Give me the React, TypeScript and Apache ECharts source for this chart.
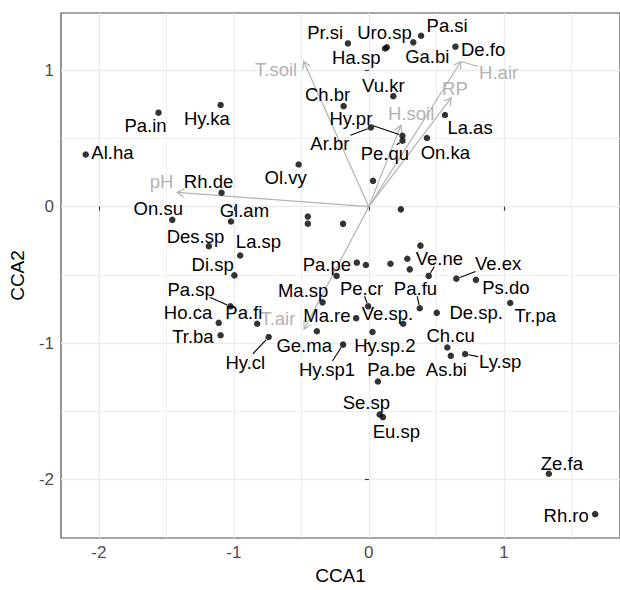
import React, { useEffect, useRef } from "react";
import * as echarts from "echarts";

// ---- Data ----
const speciesNames = [
  "Al.ha", "Pa.in", "Hy.ka", "Ol.vy", "Rh.de", "On.su", "Gl.am", "Des.sp", "La.sp", "Di.sp",
  "Pa.sp", "Pa.fi", "Ho.ca", "Tr.ba", "Hy.cl", "Ma.sp", "Ge.ma", "Ma.re", "Pa.pe", "Pe.cr",
  "Ve.sp.", "Hy.sp.2", "Hy.sp1", "Pa.fu", "De.sp.", "Ve.ne", "Ve.ex", "Ps.do", "Tr.pa", "Ch.cu",
  "As.bi", "Ly.sp", "Pa.be", "Se.sp", "Eu.sp", "Ze.fa", "Rh.ro", "Pr.si", "Uro.sp", "Ha.sp",
  "Ga.bi", "Pa.si", "De.fo", "Vu.kr", "Ch.br", "Hy.pr", "Pe.qu", "Ar.br", "La.as", "On.ka",
];
const speciesCCA1 = [
  -2.097, -1.558, -1.098, -0.52, -1.091, -1.456, -1.021, -1.185, -0.953, -0.996,
  -1.025, -0.827, -1.112, -1.098, -0.742, -0.343, -0.385, -0.094, -0.089, -0.005,
  0.254, 0.027, -0.191, 0.377, 0.503, 0.443, 0.648, 0.793, 1.047, 0.581,
  0.607, 0.713, 0.067, 0.08, 0.104, 1.333, 1.676, -0.155, 0.133, 0.12,
  0.329, 0.387, 0.641, 0.181, -0.187, 0.249, 0.249, 0.015, 0.564, 0.43,
];
const speciesCCA2 = [
  0.382, 0.689, 0.745, 0.309, 0.102, -0.097, -0.109, -0.29, -0.358, -0.504,
  -0.731, -0.859, -0.852, -0.943, -0.956, -0.702, -0.914, -0.818, -0.411, -0.731,
  -0.859, -0.919, -1.012, -0.745, -0.779, -0.508, -0.528, -0.537, -0.707, -1.033,
  -1.094, -1.081, -1.282, -1.524, -1.544, -1.959, -2.255, 1.197, 1.168, 1.16,
  1.205, 1.253, 1.173, 0.81, 0.737, 0.52, 0.483, 0.581, 0.672, 0.503,
];
// species without a drawn label
const unlabeledCCA1 = [0.031, 0.237, -0.452, -0.452, -0.191, 0.382, -0.022, -0.239, 0.16, 0.285, 0.303];
const unlabeledCCA2 = [0.189, -0.02, -0.073, -0.125, -0.126, -0.286, -0.428, -0.508, -0.419, -0.382, -0.46];

const envNames = ["pH", "T.soil", "T.air", "H.air", "RP", "H.soil"];
const envCCA1 = [-1.42, -0.483, -0.479, 0.682, 0.61, 0.237];
const envCCA2 = [0.104, 1.065, -0.898, 1.064, 0.797, 0.597];

const xTicks = [-2, -1, 0, 1];
const yTicks = [-2, -1, 0, 1];

// ---- Layout (repelled label offsets in px, relative to the point) ----
const speciesLabelOffset: [number, number][] = [
  [26.7, -2.4], [-13, 12.7], [-13.7, 13.3], [-13, 13.3], [-13, -11.3], [-14, -11], [13.4, -11], [-13.4, -10], [18.3, -14.4], [-21.7, -11],
  [-39.4, -17.3], [-13.3, -11], [-30.7, -10], [-27.7, 1.7], [-23.4, 25], [-19.4, -11.7], [-12.7, 14], [-29.3, -2.7], [-30, 1.7], [-6.6, -18.3],
  [-15.7, -10], [12.3, 13.3], [-16, 24.6], [-4.3, -20], [39.4, -0.7], [10.7, -17.6], [41.7, -15.3], [30, 7.7], [25, 12.6], [3.3, -12.4],
  [-4.4, 13.3], [35, 7], [13.4, -11.7], [-13.3, -11.6], [13.4, 14], [13, -10], [-29, 1], [-22.7, -11], [-2.3, -15], [-28.8, 8.8],
  [14, 14.4], [26, -10.7], [27.7, 3.3], [-10, -11], [-16, -11.7], [-51.6, -17.7], [-17.6, 12.3], [-41, 15.7], [25, 12.6], [18.4, 14.3],
];
const speciesWithSegment = ["Pa.sp", "Hy.cl", "Pe.cr", "Hy.sp1", "Pa.fu", "Ve.ne", "Ve.ex", "Ly.sp", "Hy.pr", "Pe.qu", "Ar.br"];
const envLabelOffset: [number, number][] = [[-15.6, -10.7], [-27.5, 7.8], [-26.3, -10.3], [37.7, 11], [3.7, -9.2], [10.3, -12]];
const envWithSegment = ["H.air"];

const FONT_FAMILY = '"Liberation Sans", Arial, Helvetica, sans-serif';
const LABEL_SIZE = 18.5;
const ENV_COLOR = "#b3b3b3";

let measureCtx: CanvasRenderingContext2D | null = null;
function textWidth(t: string): number {
  if (!measureCtx) measureCtx = document.createElement("canvas").getContext("2d");
  if (!measureCtx) return t.length * LABEL_SIZE * 0.55;
  measureCtx.font = `${LABEL_SIZE}px ${FONT_FAMILY}`;
  return measureCtx.measureText(t).width;
}

function segment(cx: number, cy: number, hw: number, hh: number, px: number, py: number, pad: number) {
  const dx = px - cx;
  const dy = py - cy;
  const len = Math.hypot(dx, dy);
  const t = Math.min(dx !== 0 ? hw / Math.abs(dx) : Infinity, dy !== 0 ? hh / Math.abs(dy) : Infinity);
  if (t >= 1 || len < pad) return null;
  return { x1: cx + dx * t, y1: cy + dy * t, x2: px - (dx / len) * pad, y2: py - (dy / len) * pad };
}

export default function App() {
  const ref = useRef<HTMLDivElement>(null);
  useEffect(() => {
    if (!ref.current) return;
    const chart = echarts.init(ref.current, undefined, { renderer: "svg" });

    const speciesPoints = speciesNames.map((_, i) => [speciesCCA1[i], speciesCCA2[i], i]);
    const extraPoints = unlabeledCCA1.map((x, i) => [x, unlabeledCCA2[i]]);
    const envData = envNames.map((_, i) => [envCCA1[i], envCCA2[i], i]);

    const axisCommon = {
      type: "value" as const,
      splitNumber: 4,
      axisLine: { show: false },
      axisTick: { show: true, length: 4, lineStyle: { color: "#333333", width: 1.1 } },
      splitLine: { show: true, lineStyle: { color: "#ebebeb", width: 1.3 } },
      minorTick: { show: false, splitNumber: 2 },
      minorSplitLine: { show: true, lineStyle: { color: "#ebebeb", width: 0.8 } },
      nameLocation: "middle" as const,
      nameTextStyle: { color: "#000000", fontSize: 19, fontFamily: FONT_FAMILY },
    };

    chart.setOption({
      animation: false,
      grid: { left: 60, top: 13, width: 570, height: 530, show: true, borderColor: "#4d4d4d", borderWidth: 1.2 },
      xAxis: {
        ...axisCommon,
        min: -2.28,
        max: 1.86,
        name: "CCA1",
        nameGap: 28,
        axisTick: { ...axisCommon.axisTick, customValues: xTicks },
        axisLabel: {
          customValues: xTicks,
          margin: 6,
          color: "#4d4d4d",
          fontSize: 17,
          fontFamily: FONT_FAMILY,
          formatter: (v: number) => (Number.isInteger(v) ? String(v) : ""),
        },
      },
      yAxis: {
        ...axisCommon,
        min: -2.43,
        max: 1.42,
        name: "CCA2",
        nameGap: 34,
        axisTick: { ...axisCommon.axisTick, customValues: yTicks },
        axisLabel: {
          customValues: yTicks,
          margin: 7,
          color: "#4d4d4d",
          fontSize: 17,
          fontFamily: FONT_FAMILY,
          formatter: (v: number) => (Number.isInteger(v) ? String(v) : ""),
        },
      },
      series: [
        {
          type: "custom",
          name: "environment",
          data: envData,
          z: 2,
          renderItem: (params: any, api: any) => {
            const i = api.value(2) as number;
            const o = api.coord([0, 0]);
            const t = api.coord([api.value(0), api.value(1)]);
            const a = Math.atan2(t[1] - o[1], t[0] - o[0]);
            const hl = 8;
            const h1 = [t[0] - hl * Math.cos(a - Math.PI / 6), t[1] - hl * Math.sin(a - Math.PI / 6)];
            const h2 = [t[0] - hl * Math.cos(a + Math.PI / 6), t[1] - hl * Math.sin(a + Math.PI / 6)];
            const cx = t[0] + envLabelOffset[i][0];
            const cy = t[1] + envLabelOffset[i][1];
            const children: any[] = [
              { type: "line", shape: { x1: o[0], y1: o[1], x2: t[0], y2: t[1] }, style: { stroke: ENV_COLOR, lineWidth: 1.2 } },
              { type: "polyline", shape: { points: [h1, t, h2] }, style: { stroke: ENV_COLOR, fill: "none", lineWidth: 1.2 } },
            ];
            if (envWithSegment.includes(envNames[i])) {
              const s = segment(cx, cy, textWidth(envNames[i]) / 2 + 1, LABEL_SIZE / 2, t[0], t[1], 1);
              if (s) children.push({ type: "line", shape: s, style: { stroke: ENV_COLOR, lineWidth: 1.1 } });
            }
            children.push({
              type: "text",
              x: cx,
              y: cy,
              style: { text: envNames[i], fill: ENV_COLOR, fontSize: LABEL_SIZE, fontFamily: FONT_FAMILY, align: "center", verticalAlign: "middle" },
            });
            return { type: "group", children };
          },
        },
        {
          type: "scatter",
          name: "species",
          data: speciesPoints.map((p) => [p[0], p[1]]).concat(extraPoints),
          symbol: "circle",
          symbolSize: 6.5,
          itemStyle: { color: "#000000" },
          z: 3,
        },
        {
          type: "custom",
          name: "species labels",
          data: speciesPoints,
          z: 4,
          renderItem: (params: any, api: any) => {
            const i = api.value(2) as number;
            const p = api.coord([api.value(0), api.value(1)]);
            const cx = p[0] + speciesLabelOffset[i][0];
            const cy = p[1] + speciesLabelOffset[i][1];
            const children: any[] = [];
            if (speciesWithSegment.includes(speciesNames[i])) {
              const s = segment(cx, cy, textWidth(speciesNames[i]) / 2 + 1, LABEL_SIZE / 2 - 1, p[0], p[1], 3.5);
              if (s) children.push({ type: "line", shape: s, style: { stroke: "#000000", lineWidth: 1.1 } });
            }
            children.push({
              type: "text",
              x: cx,
              y: cy,
              style: { text: speciesNames[i], fill: "#000000", fontSize: LABEL_SIZE, fontFamily: FONT_FAMILY, align: "center", verticalAlign: "middle" },
            });
            return { type: "group", children };
          },
        },
      ],
    });
    return () => chart.dispose();
  }, []);
  return (
    <div
      ref={ref}
      style={{ position: "absolute", left: 0, top: 0, width: 620, height: 590, background: "#ffffff" }}
    />
  );
}
